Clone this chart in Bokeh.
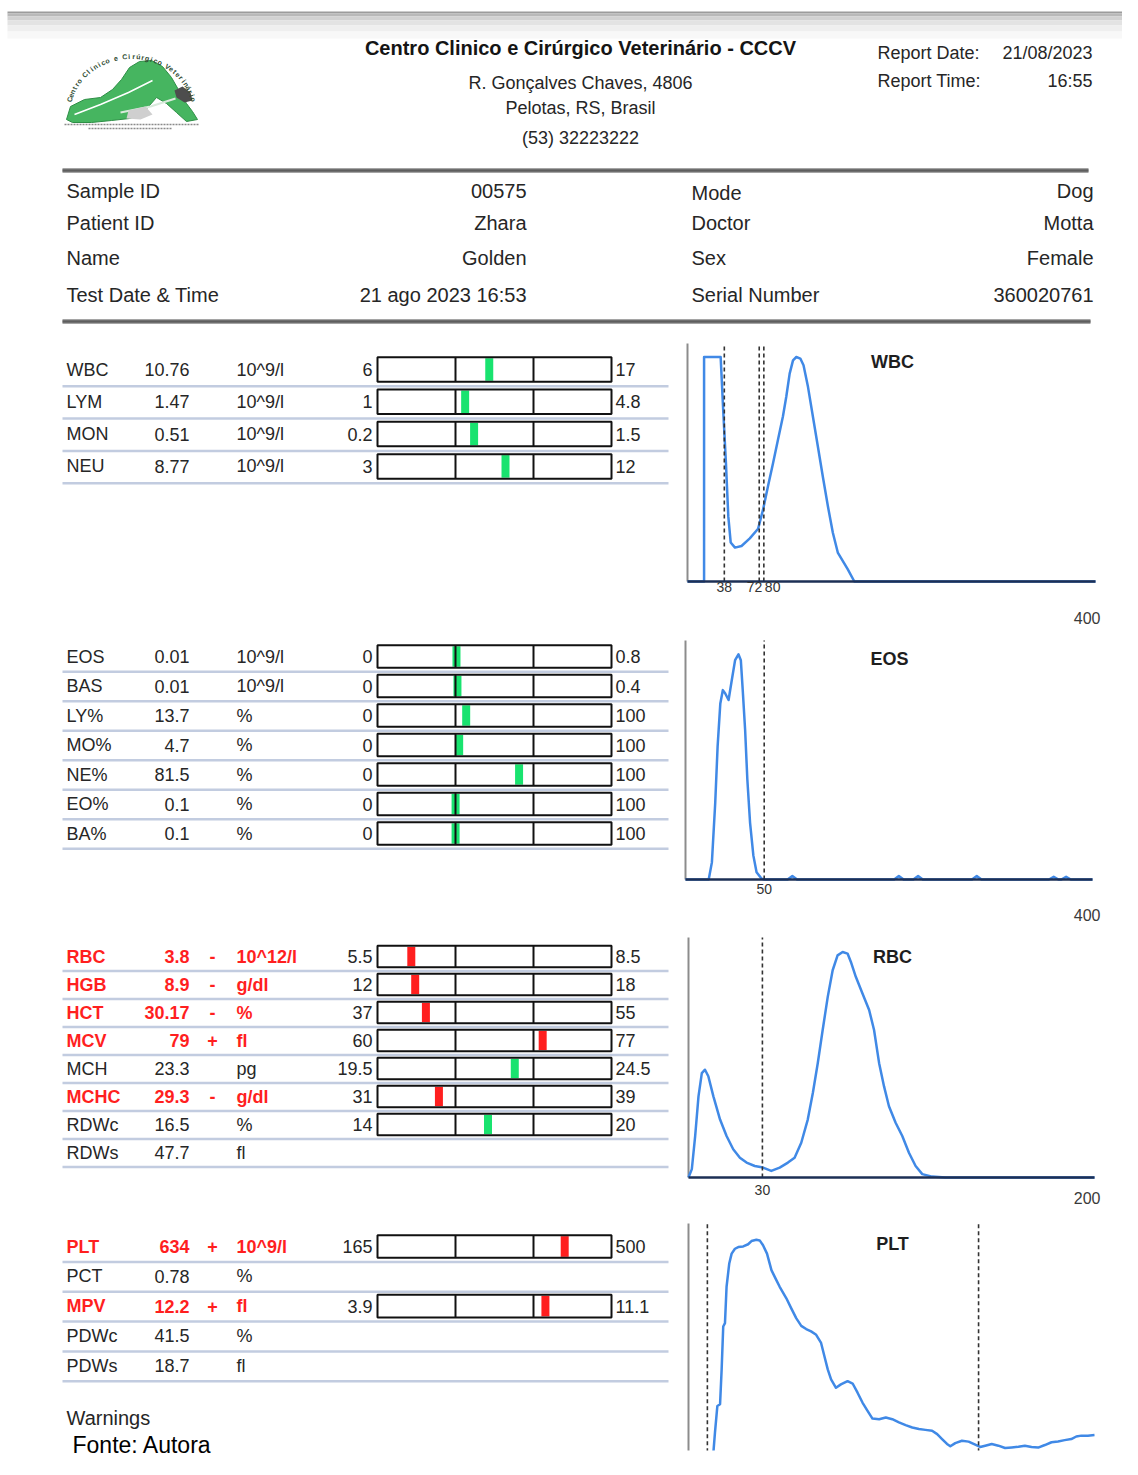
import math
from bokeh.plotting import figure
from bokeh.models import Range1d
from bokeh.core.properties import value
from bokeh.embed import file_html
from bokeh.resources import INLINE

# ------------------------------------------------------------------ data
CLINIC = "Centro Clinico e Cirúrgico Veterinário - CCCV"
ADDRESS = ["R. Gonçalves Chaves, 4806", "Pelotas, RS, Brasil", "(53) 32223222"]
REPORT_KEYS = ["Report Date:", "Report Time:"]
REPORT_VALS = ["21/08/2023", "16:55"]
INFO_L_KEYS = ["Sample ID", "Patient  ID", "Name", "Test Date & Time"]
INFO_L_VALS = ["00575", "Zhara", "Golden", "21 ago 2023 16:53"]
INFO_R_KEYS = ["Mode", "Doctor", "Sex", "Serial Number"]
INFO_R_VALS = ["Dog", "Motta", "Female", "360020761"]

WBC_NAMES = ["WBC", "LYM", "MON", "NEU"]
WBC_VALS = [10.76, 1.47, 0.51, 8.77]
WBC_FLAGS = ["", "", "", ""]
WBC_UNITS = ["10^9/l", "10^9/l", "10^9/l", "10^9/l"]
WBC_LOW = [6, 1, 0.2, 3]
WBC_HIGH = [17, 4.8, 1.5, 12]

EOS_NAMES = ["EOS", "BAS", "LY%", "MO%", "NE%", "EO%", "BA%"]
EOS_VALS = [0.01, 0.01, 13.7, 4.7, 81.5, 0.1, 0.1]
EOS_FLAGS = ["", "", "", "", "", "", ""]
EOS_UNITS = ["10^9/l", "10^9/l", "%", "%", "%", "%", "%"]
EOS_LOW = [0, 0, 0, 0, 0, 0, 0]
EOS_HIGH = [0.8, 0.4, 100, 100, 100, 100, 100]

RBC_NAMES = ["RBC", "HGB", "HCT", "MCV", "MCH", "MCHC", "RDWc", "RDWs"]
RBC_VALS = [3.8, 8.9, 30.17, 79, 23.3, 29.3, 16.5, 47.7]
RBC_FLAGS = ["-", "-", "-", "+", "", "-", "", ""]
RBC_UNITS = ["10^12/l", "g/dl", "%", "fl", "pg", "g/dl", "%", "fl"]
RBC_LOW = [5.5, 12, 37, 60, 19.5, 31, 14, None]
RBC_HIGH = [8.5, 18, 55, 77, 24.5, 39, 20, None]

PLT_NAMES = ["PLT", "PCT", "MPV", "PDWc", "PDWs"]
PLT_VALS = [634, 0.78, 12.2, 41.5, 18.7]
PLT_FLAGS = ["+", "", "+", "", ""]
PLT_UNITS = ["10^9/l", "%", "fl", "%", "fl"]
PLT_LOW = [165, None, 3.9, None, None]
PLT_HIGH = [500, None, 11.1, None, None]

# histograms: x in analyser channels (0..256), y in relative counts (peak = 100)
WBC_CH = [0, 10.4, 10.4, 20.8, 22.5, 24.1, 25.6, 27.1, 29.8, 33.9, 39.1, 44.3, 47.4, 50.5,
          53.7, 56.8, 59.9, 62.0, 64.1, 66.2, 68.3, 70.8, 72.8, 75.6, 78.7, 81.8, 84.9,
          88.1, 91.2, 94.3, 97.4, 100.5, 104.7, 256]
WBC_CNT = [0, 0, 100, 100, 74.9, 53, 29, 17.4, 15.1, 15.8, 19.2, 23.5, 32, 42.4,
           52.8, 63.2, 73.6, 82.4, 92.6, 98.5, 100, 99.3, 96.3, 86.7, 73.4, 60.1, 46.8,
           33.5, 21.7, 12.9, 9.2, 5.5, 0, 0]
WBC_TH_CH = [23.1, 45.0, 47.9]
WBC_TH_LABEL = ["38", "72", "80"]

EOS_CH = [0, 14.6, 16.6, 18.7, 20.2, 21.9, 23.5, 25.0, 27.1, 29.1, 31.2, 33.3, 34.8, 36.0,
          37.5, 38.9, 40.6, 42.7, 44.7, 47.9, 50, 64.2, 67.2, 70.2, 131.2, 134.2, 137.2,
          143.3, 146.3, 149.3, 180.2, 183.2, 186.2, 228.6, 231.6, 234.6, 236.4, 239.4,
          242.4, 256]
EOS_CNT = [0, 0, 7.6, 34.1, 59.1, 78.2, 84.1, 82.6, 79.7, 88.5, 97.4, 100, 97.4, 84.1,
           66.5, 44.4, 25.3, 10.6, 3.2, 0.3, 0, 0, 1.5, 0, 0, 1.5, 0,
           0, 1.5, 0, 0, 1.5, 0, 0, 1.2, 0, 0, 1.2,
           0, 0]
EOS_TH_CH = [49.5]
EOS_TH_LABEL = ["50"]

RBC_CH = [0, 2.1, 4.2, 6.3, 8.4, 10.4, 12.5, 15.7, 19.9, 24.0, 28.2, 32.4, 36.6, 41.8, 47.0,
          52.2, 57.5, 62.7, 66.9, 71.1, 75.2, 78.4, 81.5, 84.6, 87.8, 90.9, 94.0, 97.2,
          100.3, 102.4, 105.5, 109.7, 113.9, 117.0, 120.2, 123.3, 126.4, 130.6, 134.8,
          139.0, 143.2, 147.4, 153.6, 162.0, 256]
RBC_CNT = [0, 3.7, 18.4, 36.0, 46.3, 47.8, 44.9, 36.0, 25.7, 18.4, 12.5, 8.8, 6.6, 5.1, 4.4,
           2.9, 4.4, 6.6, 8.8, 15.4, 25.7, 37.5, 50.7, 65.4, 80.1, 91.9, 98.5, 100,
           99.3, 95.6, 89.0, 81.6, 74.3, 65.4, 50.7, 40.4, 31.6, 24.3, 18.4,
           11.0, 5.1, 1.5, 0.4, 0, 0]
RBC_TH_CH = [46.6]
RBC_TH_LABEL = ["30"]

PLT_CH = [0, 15.7, 16.7, 18.2, 19.9, 20.9, 21.9, 23.0, 24.0, 25.7, 27.2, 29.3, 31.4, 34.5,
          37.6, 39.7, 42.8, 44.9, 47.0, 49.5, 52.3, 55.4, 57.5, 61.7, 64.8, 67.9, 71.1,
          74.2, 77.3, 80.5, 83.6, 85.7, 87.8, 89.9, 93.0, 96.1, 100.3, 103.5, 106.6,
          109.7, 112.9, 116.0, 120.2, 124.4, 128.5, 132.7, 136.9, 141.1, 145.3, 149.4,
          153.6, 156.8, 159.9, 163.0, 165.1, 168.2, 172.4, 176.6, 180.8, 183.9, 187.1,
          191.2, 195.4, 199.6, 203.8, 208.0, 212.1, 216.3, 220.5, 224.7, 228.9, 233.0,
          237.2, 241.4, 244.5, 247.7, 251.8, 256]
PLT_CNT = [0, 0, 9.3, 21.7, 22.5, 38.8, 58.9, 60.5, 77.5, 88.4, 93.0, 95.3, 96.1, 96.4,
           97.4, 98.9, 99.5, 99.2, 96.9, 93.0, 85.3, 80.6, 77.5, 72.1, 67.4, 62.8, 59.2,
           57.7, 56.6, 55.0, 51.2, 45.0, 38.8, 34.1, 30.2, 31.8, 33.3, 32.2, 27.9,
           23.3, 19.4, 15.8, 15.5, 16.3, 15.5, 14.0, 12.7, 11.6, 10.9, 10.5,
           10.1, 8.5, 6.2, 3.9, 2.8, 4.3, 5.4, 5.0, 3.6, 2.5, 3.1,
           3.9, 3.1, 2.0, 2.3, 2.6, 3.1, 2.5, 2.2, 3.4, 4.7, 5.1,
           5.7, 6.2, 7.4, 7.8, 7.8, 8.1]
PLT_TH_CH = [11.9, 182.9]
PLT_TH_LABEL = ["", ""]

HIST_MAX_LABEL = {"wbc": "400", "eos": "400", "rbc": "200"}

LOGO_TEXT = "Centro Clínico e Cirúrgico Veterinário"
FOOTNOTE = "Fonte: Autora"

# ------------------------------------------------------------------ style / layout
FONT = value("Liberation Sans")
TXT = "#262626"
RED = "#ff1f1f"
GREEN = "#19e36f"
BLUE = "#4089e6"
SEP = "#c2cce0"

W, H = 1122, 1459
OX, OY = 0, 0

p = figure(width=W, height=H, x_range=Range1d(OX, OX + W), y_range=Range1d(OY + H, OY),
           output_backend="svg", toolbar_location=None, min_border=0,
           x_axis_location=None, y_axis_location=None,
           background_fill_color="white", border_fill_color="white")
p.grid.visible = False
p.outline_line_color = None


def txt(x, y, s, size=18, align="left", color=TXT, bold=False, baseline="middle", **kw):
    p.text(x=[x], y=[y], text=[s], text_font=FONT, text_font_size=f"{size}px",
           text_align=align, text_baseline=baseline, text_color=color,
           text_font_style="bold" if bold else "normal", **kw)


def fmt(v):
    return str(v)


# page top shadow
for y0, y1, c in [(11, 13, "#9c9c9c"), (13, 16, "#b9b9b9"), (16, 20, "#d2d2d2"),
                  (20, 25, "#e3e3e3"), (25, 31, "#efefef"), (31, 38, "#f8f8f8")]:
    p.quad(left=[7], right=[1138], top=[y0], bottom=[y1], fill_color=c, line_color=None)

# ------------------------------------------------------------------ logo
LG = "#46b560"
p.patch(x=[66, 70, 84, 100, 112, 121, 129, 139, 151, 162, 171, 179, 186, 192, 197, 186,
           176, 166, 156, 149, 141, 129, 111, 91, 72],
        y=[119, 106, 99, 97, 89, 79, 67, 61, 60, 66, 77, 91, 103, 111, 119, 121,
           112, 103, 97, 105, 114, 118, 120, 122, 122],
        fill_color=LG, line_color="#2f8f47", line_width=1)
p.line(x=[74, 100, 128, 152], y=[114, 104, 92, 80], line_color="white", line_width=1.5)
p.line(x=[120, 150, 175], y=[112, 106, 98], line_color="#d9eadc", line_width=2)
p.patch(x=[174, 182, 190, 192, 184, 176], y=[90, 86, 92, 100, 102, 97],
        fill_color="#4d4d4d", line_color=None)
p.patch(x=[128, 145, 152, 140, 126], y=[110, 106, 114, 119, 118],
        fill_color="#cfcfcf", line_color=None)
cx, cy, rx, ry = 131, 114, 64, 58
n = len(LOGO_TEXT)
for i, ch in enumerate(LOGO_TEXT):
    th = math.radians(165 - 150 * i / (n - 1))
    txt(cx + rx * math.cos(th), cy - ry * math.sin(th), ch, size=7, align="center",
        color="#2e4a30", bold=True, angle=th - math.pi / 2)
p.segment(x0=[64, 88], y0=[124, 128], x1=[198, 172], y1=[124, 128],
          line_color="#8a8a8a", line_width=1.5, line_dash="2 1")

# ------------------------------------------------------------------ header
txt(580, 47, CLINIC, size=20, align="center", color="#151515", bold=True)
for s, y in zip(ADDRESS, [82, 107, 137]):
    txt(580, y, s, size=18, align="center")
for k, v, y in zip(REPORT_KEYS, REPORT_VALS, [52, 80]):
    txt(877, y, k, size=18)
    txt(1092, y, v, size=18, align="right")

for y, x1 in [(170, 1088), (321, 1090)]:
    p.segment(x0=[62], y0=[y], x1=[x1], y1=[y], line_color="#a5a5a5", line_width=5)
    p.segment(x0=[62], y0=[y], x1=[x1], y1=[y], line_color="#5e5e5e", line_width=2.5)

for i, y in enumerate([190, 222, 257, 294]):
    txt(66, y, INFO_L_KEYS[i], size=20)
    txt(526, y, INFO_L_VALS[i], size=20, align="right")
    txt(691, y + (2 if i == 0 else 0), INFO_R_KEYS[i], size=20)
    txt(1093, y, INFO_R_VALS[i], size=20, align="right")

# ------------------------------------------------------------------ result tables
BAR_L, BAR_R = 377, 611
ppu = (BAR_R - BAR_L) / 3.0
bs = -1 - (BAR_L - OX) / ppu
p.extra_x_ranges["bar"] = Range1d(bs, bs + W / ppu)


def section(names, vals, flags, units, lows, highs, y0, pitch):
    bh = pitch * 0.76
    for i in range(len(names)):
        y = y0 + pitch * i
        red = flags[i] != ""
        col = RED if red else TXT
        txt(66, y, names[i], color=col, bold=red)
        txt(189, y, fmt(vals[i]), align="right", color=col, bold=red)
        if red:
            txt(212, y, flags[i], align="center", color=RED, bold=True)
        txt(236, y, units[i], color=col, bold=red)
        if lows[i] is not None:
            lo, hi = lows[i], highs[i]
            t = (vals[i] - lo) / (hi - lo)
            t = max(-1.0, min(2.0, t))
            p.rect(x=[0.5], y=[y], width=[3], height=[bh], height_units="screen",
                   fill_color="white", line_color=None, x_range_name="bar")
            p.rect(x=[t], y=[y], width=[8], height=[bh - 2], width_units="screen",
                   height_units="screen", fill_color=RED if red else GREEN,
                   line_color=None, x_range_name="bar")
            p.segment(x0=[0, 1], y0=[y - bh / 2] * 2, x1=[0, 1], y1=[y + bh / 2] * 2,
                      line_color="#111111", line_width=2, x_range_name="bar")
            p.rect(x=[0.5], y=[y], width=[3], height=[bh], height_units="screen",
                   fill_color=None, line_color="#111111", line_width=2, x_range_name="bar")
            txt(372, y, fmt(lo), align="right")
            txt(615, y, fmt(hi))
        ys = y + pitch * 0.52
        p.segment(x0=[62], y0=[ys], x1=[668], y1=[ys], line_color=SEP, line_width=2.5)


section(WBC_NAMES, WBC_VALS, WBC_FLAGS, WBC_UNITS, WBC_LOW, WBC_HIGH, 369, 32.3)
section(EOS_NAMES, EOS_VALS, EOS_FLAGS, EOS_UNITS, EOS_LOW, EOS_HIGH, 656, 29.5)
section(RBC_NAMES, RBC_VALS, RBC_FLAGS, RBC_UNITS, RBC_LOW, RBC_HIGH, 956, 28.0)
section(PLT_NAMES, PLT_VALS, PLT_FLAGS, PLT_UNITS, PLT_LOW, PLT_HIGH, 1246, 29.8)

txt(66, 1417, "Warnings", size=20)

# ------------------------------------------------------------------ histograms
HISTS = [
    ("wbc", "WBC", WBC_CH, WBC_CNT, WBC_TH_CH, WBC_TH_LABEL, 687, 1095, 581, 356.5, 343,
     (892, 361), 5, ["center", "right", "left"], [0, 3, 1], True, 617),
    ("eos", "EOS", EOS_CH, EOS_CNT, EOS_TH_CH, EOS_TH_LABEL, 685, 1092, 879, 653.8, 640,
     (889, 658), 9, ["center"], [0], True, 914),
    ("rbc", "RBC", RBC_CH, RBC_CNT, RBC_TH_CH, RBC_TH_LABEL, 688, 1094, 1177, 951.5, 937,
     (892, 956), 12, ["center"], [0], True, 1197),
    ("plt", "PLT", PLT_CH, PLT_CNT, PLT_TH_CH, PLT_TH_LABEL, 688, 1094, 1451.8, 1238.2, 1223,
     (892, 1243), 12, ["center", "center"], [0, 0], False, None),
]

for (key, title, ch, cnt, th, thl, left, right, base, top100, axis_top, txy, ldy,
     laligns, ldx, has_base, maxy) in HISTS:
    ppx = (right - left) / 256.0
    xs = -(left - OX) / ppx
    xr = key + "_x"
    yr = key + "_y"
    p.extra_x_ranges[xr] = Range1d(xs, xs + W / ppx)
    ppy = (base - top100) / 100.0
    p.extra_y_ranges[yr] = Range1d((base - (OY + H)) / ppy, (base - OY) / ppy)
    atop = (base - axis_top) / ppy
    p.segment(x0=[0], y0=[0], x1=[0], y1=[atop], line_color="#8c8c8c", line_width=2,
              x_range_name=xr, y_range_name=yr)
    p.line(x=ch, y=cnt, line_color=BLUE, line_width=2.5, line_join="round",
           x_range_name=xr, y_range_name=yr)
    p.segment(x0=th, y0=[0] * len(th), x1=th, y1=[atop] * len(th), line_color="#333333",
              line_width=1.6, line_dash="4 3", x_range_name=xr, y_range_name=yr)
    if has_base:
        p.segment(x0=[0], y0=[0], x1=[256], y1=[0], line_color="#1c2f55", line_width=2.5,
                  x_range_name=xr, y_range_name=yr)
    for c, lab, al, dx in zip(th, thl, laligns, ldx):
        if lab:
            p.text(x=[c], y=[base + ldy], text=[lab], text_font=FONT, text_font_size="14px",
                   text_align=al, text_baseline="middle", text_color="#333333",
                   x_range_name=xr, x_offset=dx)
    txt(txy[0], txy[1], title, size=18, align="center", bold=True, color="#1e1e1e")
    if maxy is not None:
        txt(1100, maxy, HIST_MAX_LABEL[key], size=16, align="right", color="#3a3a3a")

# page cut below the PLT histogram
p.quad(left=[676], right=[1130], top=[1450], bottom=[1467], fill_color="white",
       line_color=None)

txt(72, 1444, FOOTNOTE, size=23, color="#000000", baseline="middle")

open("out.html", "w").write(file_html(p, INLINE))
